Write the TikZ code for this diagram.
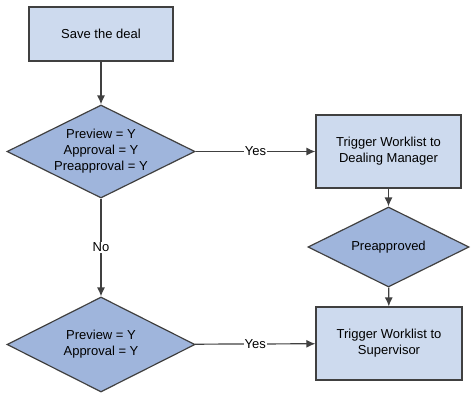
\documentclass[tikz,border=0pt]{standalone}
\usepackage{fontspec}
\setmainfont{Liberation Sans}
\usetikzlibrary{shapes.geometric,arrows.meta}
\definecolor{boxfill}{RGB}{205,218,238}
\definecolor{decfill}{RGB}{159,181,220}
\definecolor{edgegray}{RGB}{64,64,64}
\begin{document}
\begin{tikzpicture}[x=1pt,y=-1pt,
  font=\fontsize{13}{16}\selectfont,
  stepbox/.style={draw=edgegray,line width=1.2pt,fill=boxfill,align=center,inner sep=0pt},
  decision/.style={diamond,draw=edgegray,line width=1.2pt,fill=decfill,align=center,inner sep=0pt,aspect=2},
  flow/.style={draw=edgegray,line width=1.2pt,-{Latex[length=9pt,width=8pt]}},
  lbl/.style={fill=white,inner sep=1pt}]
\useasboundingbox (0,0) rectangle (476,402);
% boxes
\node[stepbox,minimum width=144pt,minimum height=54pt] (save) at (101,34) {Save the deal};
\node[stepbox,minimum width=145pt,minimum height=73pt] (dealmgr) at (388.5,151.5) {Trigger Worklist to\\Dealing Manager};
\node[stepbox,minimum width=146pt,minimum height=73pt] (super) at (389,343.5) {Trigger Worklist to\\Supervisor};
% decisions
\node[decision,minimum width=188pt,minimum height=93pt] (check1) at (101,151.5) {Preview = Y\\Approval = Y\\Preapproval = Y};
\node[decision,minimum width=161pt,minimum height=80pt] (preapp) at (388.5,247) {Preapproved};
\node[decision,minimum width=188pt,minimum height=95pt] (check2) at (101,344.5) {Preview = Y\\Approval = Y};
% connectors
\draw[flow] (save) -- (check1);
\draw[flow] (check1) -- node[lbl] {Yes} (dealmgr);
\draw[flow] (dealmgr) -- (preapp);
\draw[flow] (preapp) -- (super);
\draw[flow] (check1) -- node[lbl] {No} (check2);
\draw[flow] (check2) -- node[lbl] {Yes} (super);
\end{tikzpicture}
\end{document}
